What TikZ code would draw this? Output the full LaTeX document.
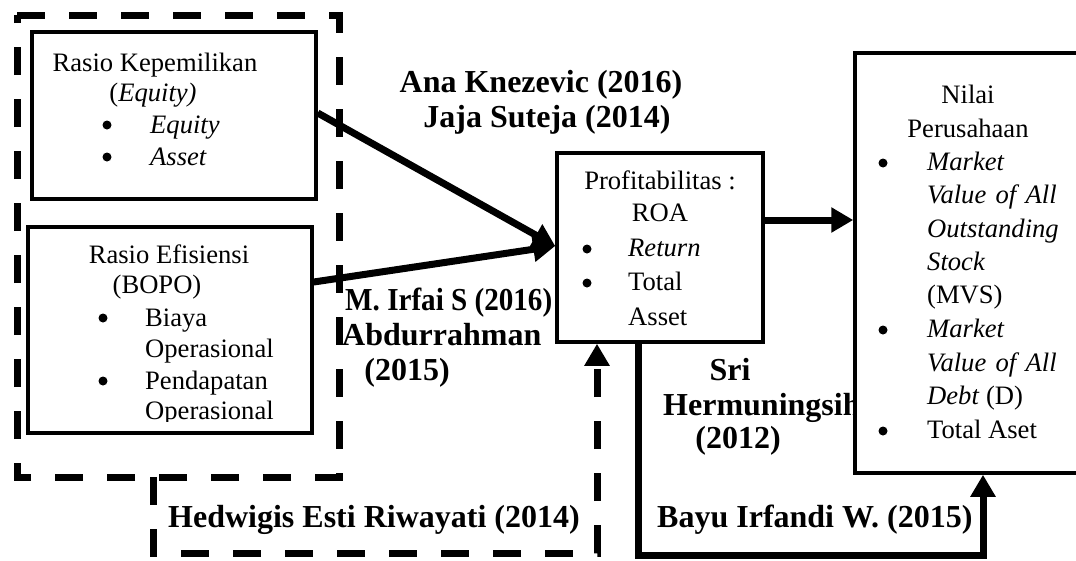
\documentclass[tikz,border=0pt]{standalone}
\usepackage{fontspec}
\setmainfont{Liberation Serif}
\usetikzlibrary{arrows.meta}
\newcommand{\rfont}{\fontsize{26.6}{31}\selectfont}
\newcommand{\bfont}{\fontsize{32}{35}\selectfont\bfseries}
\tikzset{
  box/.style={draw, line width=3.5pt, fill=white},
  arr/.style={line width=7pt, -{Triangle[length=22pt,width=24pt]}},
  dashln/.style={line width=7pt, dash pattern=on 28pt off 24pt},
  tl/.style={font=\rfont, inner sep=0pt, anchor=base west},
  tc/.style={font=\rfont, inner sep=0pt, anchor=base},
  bl/.style={font=\bfont, inner sep=0pt, anchor=base west},
  bc/.style={font=\bfont, inner sep=0pt, anchor=base},
  bul/.style={circle, fill=black, inner sep=0pt, minimum size=9pt}
}
\begin{document}
\begin{tikzpicture}[x=1pt,y=-1pt]
\useasboundingbox (0,0) rectangle (1076,560);
% dashed grouping box
\draw[dashln] (17,15) -- (339,15) -- (339,477) -- (17,477) -- cycle;

% labels (behind boxes)
\node[bc] (lana) at (541,92) {Ana Knezevic (2016)};
\node[bc] (ljaja) at (547,127) {Jaja Suteja (2014)};
\node[bl, fill=white] (lirfai) at (345,310) {\scalebox{0.91}[1]{M. Irfai S (2016)}};
\node[bl] (labd) at (342,345) {Abdurrahman};
\node[bc] (labdy) at (407,380) {(2015)};
\node[bc] (lsri) at (730,380) {Sri};
\node[bl] (lherm) at (663,415) {Hermuningsih};
\node[bc] (lhermy) at (738,448) {(2012)};
\node[bl] (lbayu) at (657,527) {Bayu Irfandi W. (2015)};
\node[bl] (lhed) at (168,527) {Hedwigis Esti Riwayati (2014)};

% boxes
\node[box, minimum width=284pt, minimum height=167pt] (own) at (174,115.5) {};
\node[box, minimum width=284pt, minimum height=206pt] (eff) at (170,330) {};
\node[box, minimum width=206pt, minimum height=189pt] (prof) at (660,247.5) {};
\node[box, minimum width=240pt, minimum height=420pt] (nilai) at (975,263) {};

% box 1 text
\node[tc] (t1a) at (155,71) {Rasio Kepemilikan};
\node[tc] (t1b) at (153,101) {(\textit{Equity)}};
\node[bul] (b1a) at (107,125) {};
\node[tl] (t1c) at (150,133) {\textit{Equity}};
\node[bul] (b1b) at (107,157) {};
\node[tl] (t1d) at (150,165) {\textit{Asset}};

% box 2 text
\node[tc] (t2a) at (169,263) {Rasio Efisiensi};
\node[tc] (t2b) at (157,293) {(BOPO)};
\node[bul] (b2a) at (103,318) {};
\node[tl] (t2c) at (145,326) {Biaya};
\node[tl] (t2d) at (145,357) {Operasional};
\node[bul] (b2b) at (103,381) {};
\node[tl] (t2e) at (145,389) {Pendapatan};
\begin{scope}
\clip (30,380) rectangle (310,421);
\node[tl] (t2f) at (145,419) {Operasional};
\end{scope}

% profit text
\node[tc] (t3a) at (660,189) {Profitabilitas :};
\node[tc] (t3b) at (660,221) {ROA};
\node[bul] (b3a) at (587,249) {};
\node[tl] (t3c) at (628,256) {\textit{Return}};
\node[bul] (b3b) at (587,283) {};
\node[tl] (t3d) at (628,290) {Total};
\node[tl] (t3e) at (628,325) {Asset};

% nilai text
\node[tc] (t4a) at (968,103) {Nilai};
\node[tc] (t4b) at (968,137) {Perusahaan};
\node[bul] (b4a) at (883,163) {};
\node[tl] (t4c) at (927,170) {\textit{Market}};
\node[tl] (t4d) at (927,203) {\textit{Value\hspace{0.35em}of\hspace{0.35em}All}};
\node[tl] (t4e) at (927,237) {\textit{Outstanding}};
\node[tl] (t4f) at (927,270) {\textit{Stock}};
\node[tl] (t4g) at (927,303) {(MVS)};
\node[bul] (b4b) at (883,330) {};
\node[tl] (t4h) at (927,337) {\textit{Market}};
\node[tl] (t4i) at (927,371) {\textit{Value\hspace{0.35em}of\hspace{0.35em}All}};
\node[tl] (t4j) at (927,404) {\textit{Debt} (D)};
\node[bul] (b4c) at (883,431) {};
\node[tl] (t4k) at (927,438) {Total Aset};

% connectors
\coordinate (tipP) at (prof.west |- 0,246);
\draw[arr] (own.east |- 0,113) -- (tipP);
\draw[arr] (eff.east |- 0,282) -- (tipP);
\draw[arr] (prof.east |- 0,220) -- (nilai.west |- 0,220);
\coordinate (hd1) at (153,477);
\coordinate (hd2) at (153,553);
\coordinate (hd3) at (597,553);
\draw[dashln] (hd1) -- (hd2) -- (hd3) -- (597,360);
\draw[line width=7pt, -{Triangle[length=22pt,width=24pt]}] (597,362) -- (prof.south -| 597,0);
\coordinate (by1) at (638,555);
\coordinate (by2) at (983,555);
\draw[arr, line join=miter] (prof.south -| 638,0) -- (by1) -- (by2) -- (nilai.south -| 983,0);
\end{tikzpicture}
\end{document}
